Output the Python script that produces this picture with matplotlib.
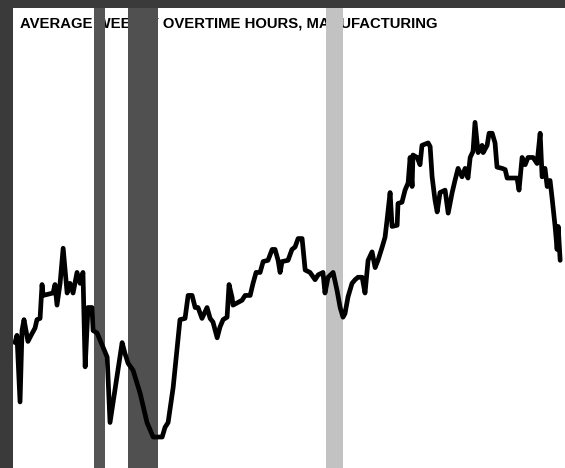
import matplotlib
matplotlib.use("Agg")
import matplotlib.pyplot as plt

# Average weekly overtime hours, manufacturing (decimal year, hours)
years = [
    1976.36, 1976.45, 1976.59, 1976.68, 1976.77, 1976.95, 1977.09, 1977.27, 1977.36, 1977.50,
    1977.59, 1977.64, 1978.09, 1978.18, 1978.27, 1978.41, 1978.55, 1978.73, 1978.86, 1979.00,
    1979.18, 1979.32, 1979.45, 1979.55, 1979.68, 1979.86, 1979.91, 1980.09, 1980.23, 1980.55,
    1980.68, 1981.23, 1981.36, 1981.50, 1981.73, 1982.05, 1982.36, 1982.64, 1983.05, 1983.18,
    1983.32, 1983.55, 1983.86, 1984.09, 1984.23, 1984.41, 1984.55, 1984.68, 1984.86, 1985.09,
    1985.23, 1985.36, 1985.55, 1985.68, 1985.82, 1986.00, 1986.09, 1986.23, 1986.27, 1986.68,
    1986.82, 1987.05, 1987.18, 1987.32, 1987.50, 1987.64, 1987.86, 1988.05, 1988.18, 1988.32,
    1988.41, 1988.50, 1988.77, 1988.95, 1989.09, 1989.23, 1989.41, 1989.55, 1989.77, 1990.00,
    1990.14, 1990.36, 1990.45, 1990.59, 1990.82, 1991.00, 1991.14, 1991.27, 1991.36, 1991.50,
    1991.68, 1991.82, 1991.95, 1992.14, 1992.27, 1992.41, 1992.59, 1992.73, 1992.86, 1993.05,
    1993.18, 1993.27, 1993.41, 1993.50, 1993.73, 1993.77, 1993.95, 1994.09, 1994.23, 1994.32,
    1994.41, 1994.45, 1994.64, 1994.77, 1994.86, 1995.14, 1995.23, 1995.32, 1995.45, 1995.55,
    1995.68, 1995.91, 1996.05, 1996.23, 1996.36, 1996.50, 1996.68, 1996.82, 1996.95, 1997.05,
    1997.18, 1997.27, 1997.41, 1997.59, 1997.64, 1997.82, 1997.91, 1998.05, 1998.18, 1998.27,
    1998.50, 1998.64, 1998.73, 1999.18, 1999.27, 1999.41, 1999.55, 1999.68, 1999.91, 2000.09,
    2000.23, 2000.32, 2000.45, 2000.55, 2000.68, 2000.77, 2000.91, 2001.00, 2001.05, 2001.14,
]
hours = [
    3.08, 3.14, 2.59, 3.18, 3.27, 3.09, 3.14, 3.20, 3.27, 3.28,
    3.56, 3.47, 3.49, 3.56, 3.39, 3.57, 3.86, 3.49, 3.57, 3.49,
    3.66, 3.57, 3.66, 2.88, 3.37, 3.37, 3.18, 3.16, 3.10, 2.96,
    2.42, 3.08, 2.99, 2.91, 2.85, 2.66, 2.42, 2.30, 2.30, 2.38,
    2.42, 2.71, 3.27, 3.28, 3.47, 3.47, 3.37, 3.37, 3.28, 3.37,
    3.28, 3.25, 3.12, 3.21, 3.27, 3.29, 3.56, 3.45, 3.39, 3.43,
    3.47, 3.47, 3.57, 3.66, 3.66, 3.75, 3.76, 3.85, 3.85, 3.76,
    3.66, 3.75, 3.76, 3.85, 3.87, 3.94, 3.94, 3.68, 3.66, 3.60,
    3.64, 3.66, 3.49, 3.62, 3.66, 3.51, 3.37, 3.29, 3.32, 3.46,
    3.57, 3.60, 3.62, 3.62, 3.49, 3.76, 3.83, 3.70, 3.76, 3.87,
    3.95, 4.09, 4.32, 4.04, 4.05, 4.23, 4.24, 4.34, 4.40, 4.61,
    4.37, 4.63, 4.61, 4.55, 4.71, 4.73, 4.70, 4.45, 4.26, 4.16,
    4.32, 4.34, 4.15, 4.32, 4.42, 4.52, 4.45, 4.52, 4.44, 4.61,
    4.66, 4.90, 4.65, 4.71, 4.65, 4.71, 4.81, 4.81, 4.73, 4.53,
    4.52, 4.51, 4.44, 4.44, 4.34, 4.61, 4.55, 4.61, 4.61, 4.56,
    4.81, 4.45, 4.52, 4.37, 4.42, 4.28, 4.04, 3.85, 4.04, 3.76,
]

# Recessions (start, end) and shade of each band
recession_start = [1979.97, 1981.5, 1990.5]
recession_end = [1980.47, 1982.85, 1991.25]
recession_shade = ["#555555", "#505050", "#c2c2c2"]

title = "AVERAGE WEEKLY OVERTIME HOURS, MANUFACTURING"

W, H = 565, 468
fig = plt.figure(figsize=(W / 100, H / 100), dpi=100, facecolor="#3a3a3a")
ax = fig.add_axes([13 / W, 0, 1 - 13 / W, 1 - 8 / H])
ax.set_facecolor("white")
ax.set_xlim(1976.27, 2001.36)
ax.set_ylim(2.044, 5.845)
for s in ax.spines.values():
    s.set_visible(False)
ax.set_xticks([])
ax.set_yticks([])

ax.text(20 / W, 1 - 28 / H, title, transform=fig.transFigure,
        family=["Liberation Sans", "DejaVu Sans"], fontweight="bold",
        fontsize=10.75, color="black", ha="left", va="baseline", zorder=1)

for x0, x1, c in zip(recession_start, recession_end, recession_shade):
    ax.axvspan(x0, x1, color=c, lw=0, zorder=2)

ax.plot(years, hours, color="black", lw=3.4, solid_joinstyle="round",
        solid_capstyle="round", zorder=3)

fig.savefig("out.png", dpi=100, facecolor=fig.get_facecolor())
